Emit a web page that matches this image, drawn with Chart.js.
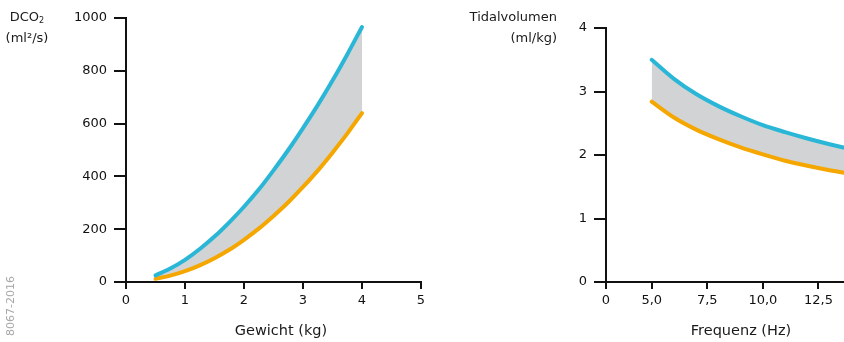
<!DOCTYPE html>
<html>
<head>
<meta charset="utf-8">
<script src="https://cdn.jsdelivr.net/npm/chart.js@4/dist/chart.umd.min.js"></script>
<style>
  html, body { margin:0; padding:0; width:844px; height:342px; overflow:hidden; background:#fff; }
  body { position:relative; font-family:"DejaVu Sans", sans-serif; color:#1a1a1a; }
  .box { position:absolute; top:0; height:342px; }
  #leftBox { left:0; width:440px; }
  #rightBox { left:440px; width:460px; }
  .lbl { position:absolute; white-space:nowrap; line-height:21px; }
  #dcoTitle { left:0; top:6px; width:54px; text-align:center; font-size:13px; }
  #dcoTitle sub { font-size:8px; vertical-align:-2px; line-height:0; }
  #tvTitle { left:440px; top:6px; width:117px; text-align:right; font-size:13px; }
  #gewTitle { left:181px; width:200px; top:320px; text-align:center; font-size:14.5px; }
  #freqTitle { left:641px; width:200px; top:320px; text-align:center; font-size:14.5px; }
  #code { left:-20px; top:300px; font-size:11px; color:#a8a8a8; transform:rotate(-90deg); transform-origin:50% 50%; width:62px; text-align:center; line-height:12px; }
</style>
</head>
<body>
<div class="box" id="leftBox"><canvas id="c1" width="440" height="342"></canvas></div>
<div class="box" id="rightBox"><canvas id="c2" width="460" height="342"></canvas></div>
<div class="lbl" id="dcoTitle">DCO<sub>2</sub><br>(ml²/s)</div>
<div class="lbl" id="tvTitle">Tidalvolumen<br>(ml/kg)</div>
<div class="lbl" id="gewTitle">Gewicht (kg)</div>
<div class="lbl" id="freqTitle">Frequenz (Hz)</div>
<div class="lbl" id="code">8067-2016</div>
<script>
// ---- Data ----
const weightKg   = [0.5, 0.75, 1.0, 1.25, 1.5, 1.75, 2.0, 2.25, 2.5, 2.75, 3.0, 3.25, 3.5, 3.75, 4.0];
const dco2Upper  = [25, 51, 84, 125, 172, 226, 285, 350, 423, 500, 583, 670, 763, 862, 966];
const dco2Lower  = [12, 24, 41, 63, 90, 122, 160, 202, 250, 302, 360, 422, 490, 562, 640];
const dco2Ticks  = [0, 200, 400, 600, 800, 1000];
const weightTicks = [0, 1, 2, 3, 4, 5];

const freqHz     = [5, 6, 7, 8, 9, 10, 11, 12, 13, 14, 15];
const tvUpper    = [3.50, 3.20, 2.96, 2.77, 2.61, 2.47, 2.36, 2.26, 2.17, 2.09, 2.02];
const tvLower    = [2.84, 2.59, 2.40, 2.25, 2.12, 2.01, 1.91, 1.83, 1.76, 1.70, 1.64];
const tvTicks    = [0, 1, 2, 3, 4];
const freqTicks  = [5, 7.5, 10, 12.5, 15];
const freqTickLabels = ['0', '5,0', '7,5', '10,0', '12,5', '15,0'];

// ---- Styles ----
const BLUE = '#2ab7d7', ORANGE = '#f5a700', FILL = '#d1d3d4', INK = '#111';
const tickFont = { family: 'DejaVu Sans', size: 13 };

function pts(xs, ys) { return xs.map((x, i) => ({ x: x, y: ys[i] })); }

function lineDs(data, color, fill) {
  return {
    data: data, borderColor: color, borderWidth: 4, pointRadius: 0,
    borderCapStyle: 'round', cubicInterpolationMode: 'monotone',
    fill: fill, backgroundColor: FILL
  };
}

function yScale(min, max, ticks, w) {
  return {
    type: 'linear', min: min, max: max,
    afterBuildTicks: ax => { ax.ticks = ticks.map(v => ({ value: v })); },
    afterFit: s => { s.width = w; },
    border: { display: true, color: INK, width: 2 },
    grid: { drawOnChartArea: false, drawTicks: true, tickLength: 12, color: INK, lineWidth: 2 },
    ticks: { color: INK, font: tickFont, padding: 7, callback: v => String(v) }
  };
}

function baseOpts(xScale, yS, pad) {
  return {
    responsive: false, animation: false, devicePixelRatio: 1,
    layout: { padding: pad },
    plugins: { legend: { display: false }, tooltip: { enabled: false },
               filler: { drawTime: 'beforeDatasetsDraw' } },
    scales: { x: xScale, y: yS }
  };
}

// ---- Left chart ----
new Chart(document.getElementById('c1'), {
  type: 'line',
  data: { datasets: [
    lineDs(pts(weightKg, dco2Upper), BLUE, '+1'),
    lineDs(pts(weightKg, dco2Lower), ORANGE, false)
  ]},
  options: baseOpts({
    type: 'linear', min: 0, max: 5,
    afterBuildTicks: ax => { ax.ticks = weightTicks.map(v => ({ value: v })); },
    afterFit: s => { s.height = 60; },
    border: { display: true, color: INK, width: 2 },
    grid: { drawOnChartArea: false, drawTicks: true, tickLength: 7, color: INK, lineWidth: 2 },
    ticks: { color: INK, font: tickFont, padding: 4, maxRotation: 0, callback: v => String(v) }
  }, yScale(0, 1000, dco2Ticks, 126), { left: 0, right: 19, top: 18, bottom: 0 })
});

// ---- Right chart (broken x axis: origin label "0" then 5,0 …) ----
const freqOrigin = 2.943;
new Chart(document.getElementById('c2'), {
  type: 'line',
  data: { datasets: [
    lineDs(pts(freqHz, tvUpper), BLUE, '+1'),
    lineDs(pts(freqHz, tvLower), ORANGE, false)
  ]},
  options: baseOpts({
    type: 'linear', min: freqOrigin, max: 15,
    afterBuildTicks: ax => { ax.ticks = [freqOrigin].concat(freqTicks).map(v => ({ value: v })); },
    afterFit: s => { s.height = 60; },
    border: { display: true, color: INK, width: 2 },
    grid: { drawOnChartArea: false, drawTicks: true, tickLength: 7, color: INK, lineWidth: 2 },
    ticks: { color: INK, font: tickFont, padding: 4, maxRotation: 0, autoSkip: false,
             callback: (v, i) => freqTickLabels[i] }
  }, yScale(0, 4, tvTicks, 166), { left: 0, right: 26, top: 28, bottom: 0 })
});
</script>
</body>
</html>
